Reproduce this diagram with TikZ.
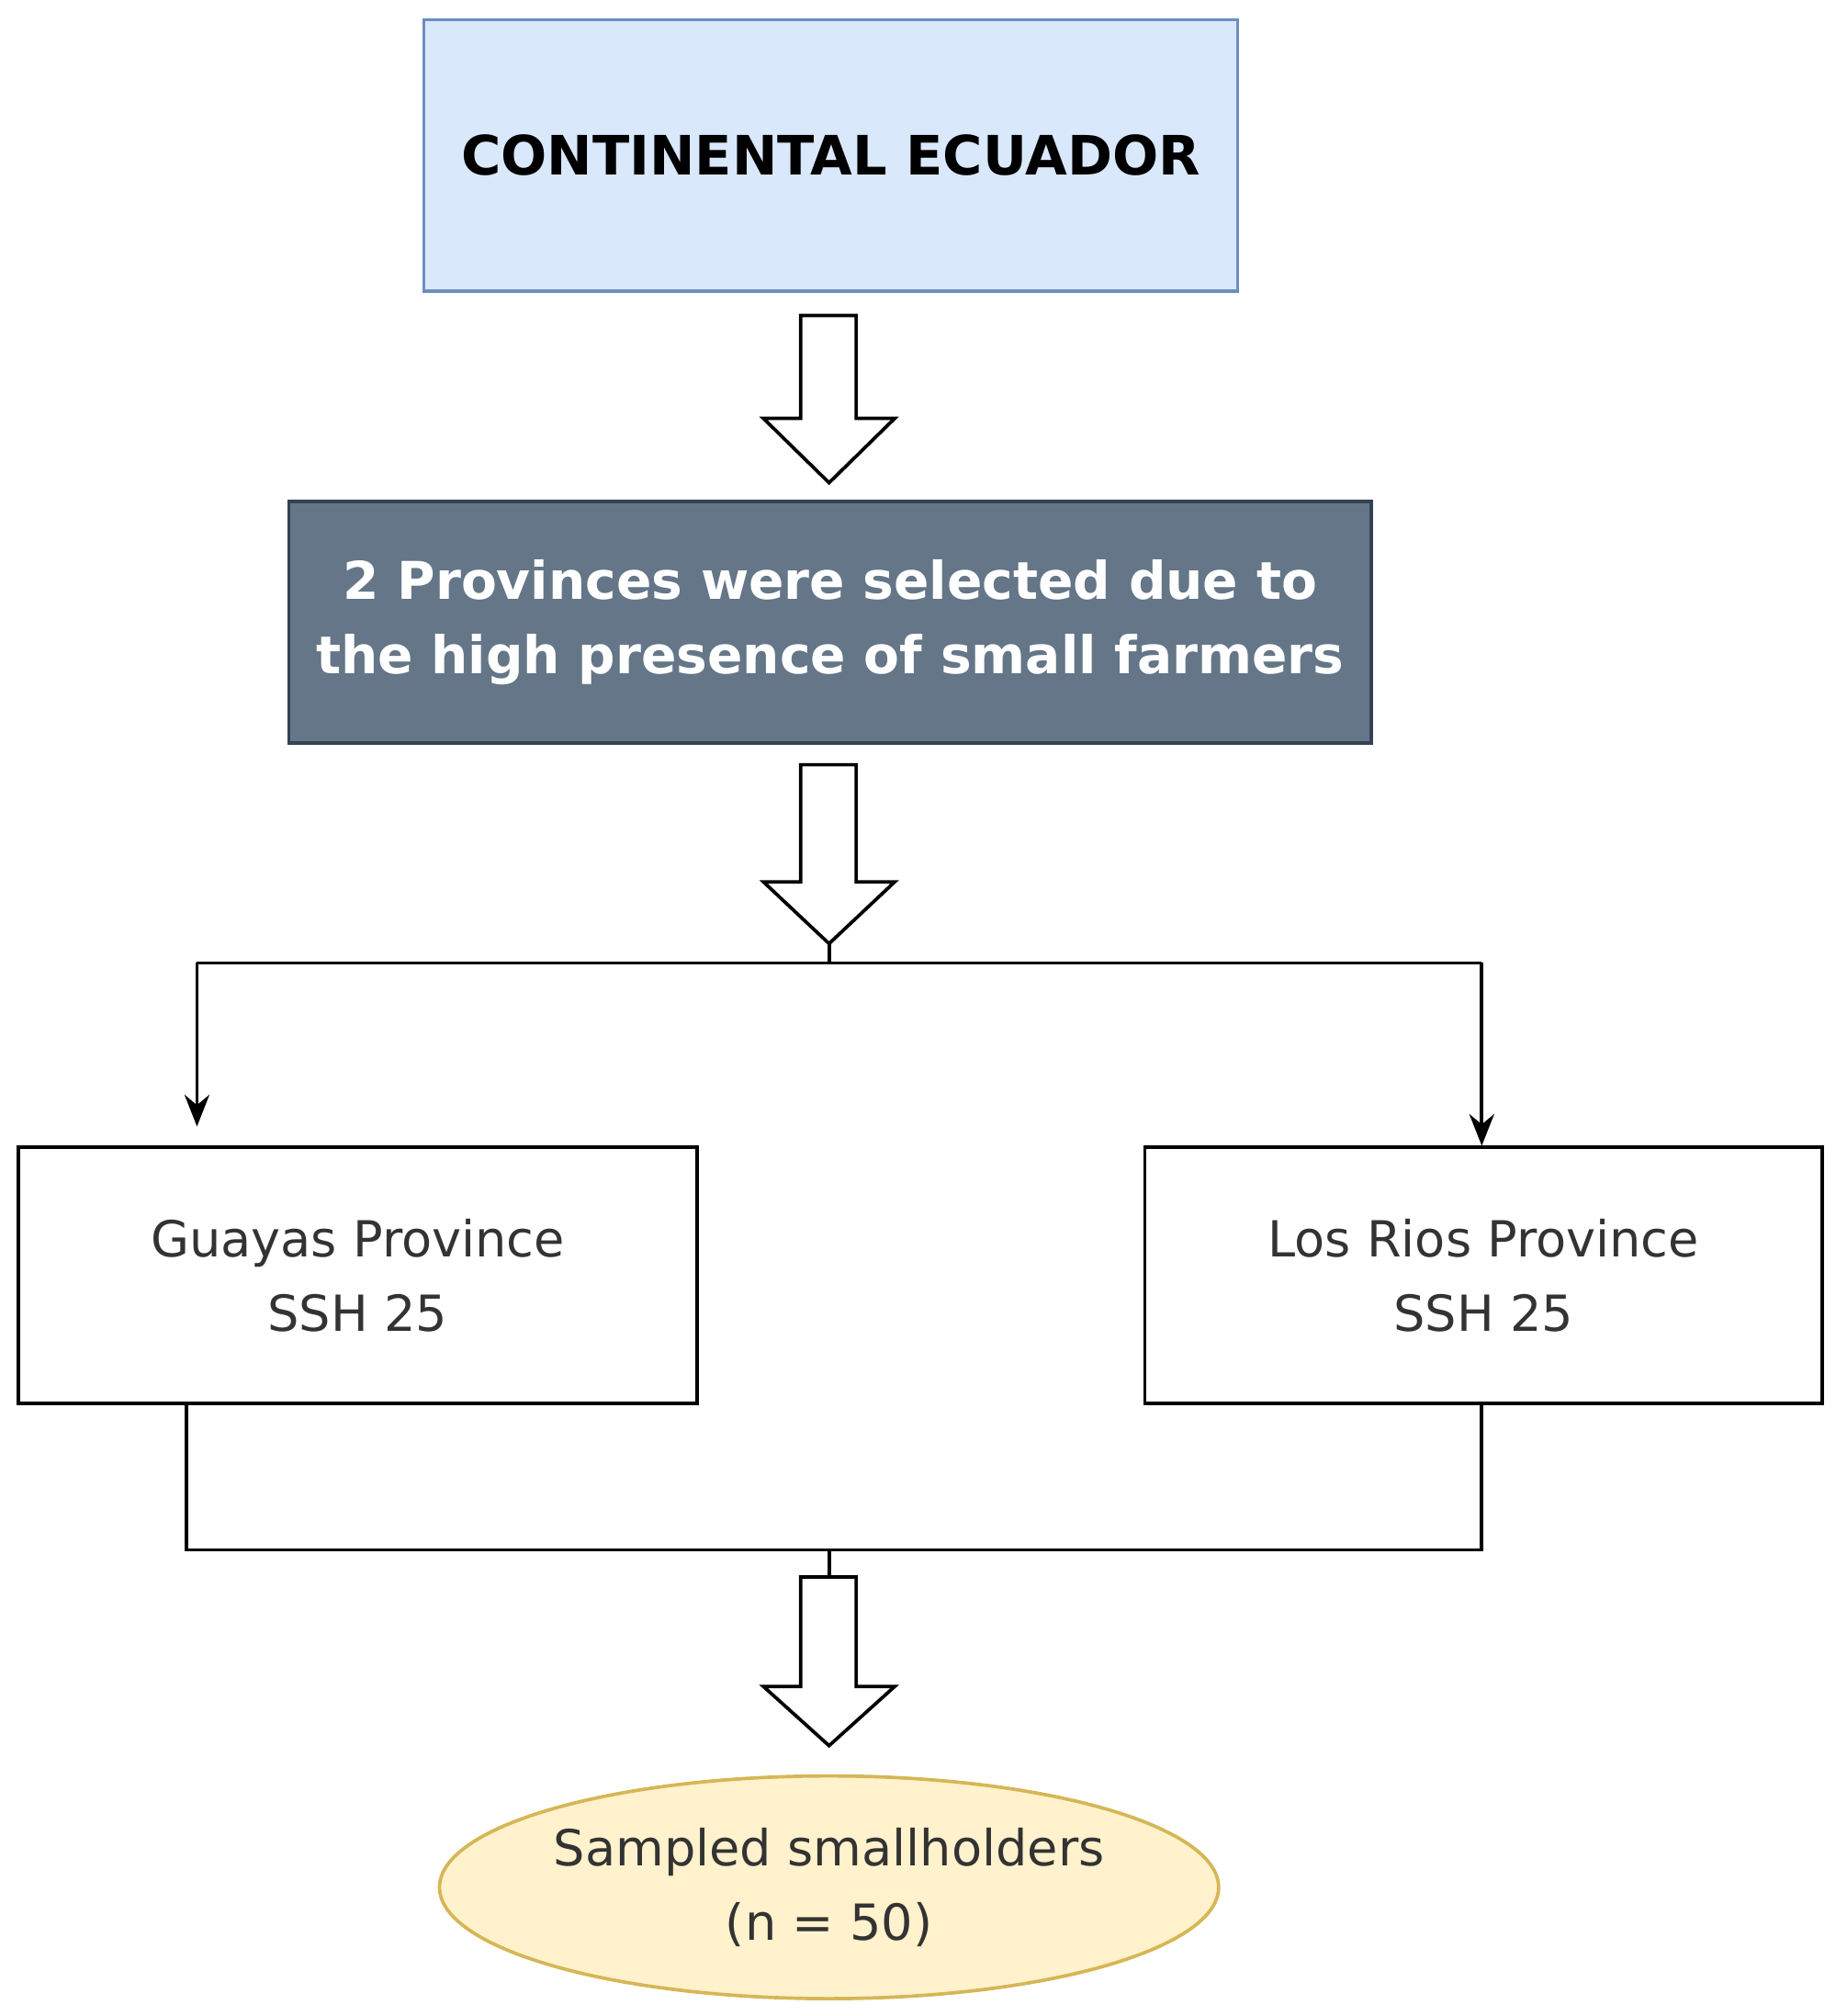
\documentclass[tikz,border=0pt]{standalone}
\usepackage{fontspec}
\setmainfont{DejaVu Sans}
\usetikzlibrary{shapes.geometric,arrows.meta}
\definecolor{bfill}{HTML}{DAE8FC}\definecolor{bline}{HTML}{6C8EBF}
\definecolor{gfill}{HTML}{647687}\definecolor{gline}{HTML}{314354}
\definecolor{yfill}{HTML}{FFF2CC}\definecolor{yline}{HTML}{D6B656}
\definecolor{txt}{HTML}{333333}
\begin{document}
\begin{tikzpicture}[x=0.02cm,y=-0.02cm,
  box/.style={draw,line width=1.5pt,inner sep=0pt,anchor=north west},
  conn/.style={line width=1.5pt},
  arr/.style={conn,-{Stealth[length=14pt,width=11pt]}},
  blk/.style={draw,line width=1.5pt,fill=white,line join=miter}]
\useasboundingbox (0,0) rectangle (1426,1566);
\node[box,fill=bfill,draw=bline,minimum width=632*0.02cm,minimum height=211*0.02cm,font=\bfseries\fontsize{24}{29}\selectfont] (ce) at (328,14) {CONTINENTAL ECUADOR};
\node[box,fill=gfill,draw=gline,minimum width=841*0.02cm,minimum height=188*0.02cm,text=white,align=center,font=\bfseries\fontsize{23}{33}\selectfont] (pr) at (223,388) {2 Provinces were selected due to\\the high presence of small farmers};
\node[box,minimum width=527*0.02cm,minimum height=199*0.02cm,align=center,text=txt,font=\fontsize{22}{33}\selectfont] (gu) at (13,890) {Guayas Province\\SSH 25};
\node[box,minimum width=526*0.02cm,minimum height=199*0.02cm,align=center,text=txt,font=\fontsize{22}{33}\selectfont] (lr) at (888,890) {Los Rios Province\\SSH 25};
\node[ellipse,draw=yline,fill=yfill,line width=1.5pt,minimum width=560*0.02cm,minimum height=173*0.02cm,inner sep=0pt,align=center,text=txt,font=\fontsize{22}{33}\selectfont] (ss) at (644,1466) {Sampled smallholders\\(n = 50)};
% block arrows
\foreach \t/\j/\tip in {245/325/375,594/685/733,1225/1310/1356}{
 \draw[blk] (622,\t) -- (665,\t) -- (665,\j) -- (695,\j) -- (644,\tip) -- (593,\j) -- (622,\j) -- cycle;}
\coordinate (b) at (644,733); \coordinate (s) at (644,748);
\coordinate (l) at (153,748); \coordinate (r) at (1151,748);
\draw[conn] (b) -- (s) (l) -- (r);
\draw[arr] (l) -- (153,875);
\draw[arr] (r) -- (lr.north -| r);
\coordinate (gb) at (145,1089); \coordinate (gc) at (145,1204);
\coordinate (rc) at (1151,1204); \coordinate (m) at (644,1204); \coordinate (m2) at (644,1225);
\draw[conn] (gb) -- (gc) -- (rc) -- (lr.south -| rc);
\draw[conn] (m) -- (m2);
\end{tikzpicture}
\end{document}
